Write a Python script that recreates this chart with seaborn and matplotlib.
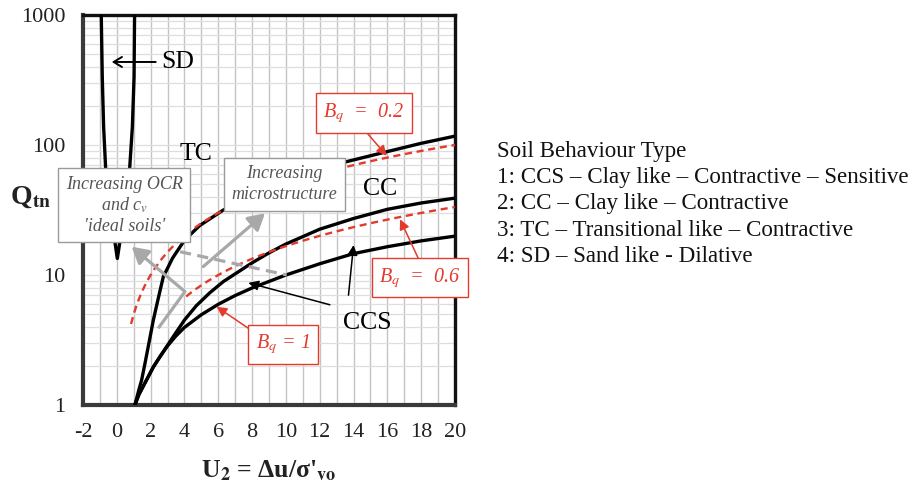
import numpy as np
import pandas as pd
import matplotlib
matplotlib.use("Agg")
import matplotlib.pyplot as plt
import seaborn as sns
from matplotlib.ticker import FixedLocator, FixedFormatter, NullFormatter

# ---- boundary curves in the Qtn - U2 chart -------------------------------
# TC / CC boundary
tc_cc_u2 = [1.07, 1.3, 1.47, 1.67, 1.9, 2.16, 2.45, 2.75, 3.3, 4.0, 4.9, 6.3, 8.0, 10.0, 12.0, 13.6, 16.0, 18.0, 20.0]
tc_cc_q = [1.0, 1.3, 1.56, 2.1, 3.0, 4.5, 6.6, 9.7, 13.5, 18.5, 24.0, 31.6, 41.0, 52.0, 63.0, 74.5, 89.0, 103.0, 117.0]

# CC / CCS boundary
cc_ccs_u2 = [1.07, 1.3, 1.76, 2.15, 2.55, 3.0, 3.4, 4.0, 4.7, 5.5, 6.3, 7.0, 8.0, 9.0, 10.0, 12.0, 14.0, 16.0, 18.0, 20.0]
cc_ccs_q = [1.0, 1.2, 1.56, 1.95, 2.35, 2.88, 3.45, 4.5, 5.8, 7.3, 8.9, 10.2, 12.4, 14.8, 17.3, 22.5, 27.2, 32.0, 35.8, 39.0]

# lower CCS curve
ccs_u2 = [1.07, 1.3, 1.76, 2.15, 2.55, 3.0, 3.5, 4.0, 5.0, 6.0, 7.0, 8.0, 10.0, 12.0, 14.0, 16.0, 18.0, 20.0]
ccs_q = [1.0, 1.2, 1.56, 1.95, 2.35, 2.85, 3.4, 3.95, 4.95, 5.95, 6.95, 7.95, 10.0, 12.2, 14.6, 16.5, 18.3, 19.9]

# SD zone outline (down the left side, up the right side)
sd_u2 = [-0.92, -0.86, -0.78, -0.66, -0.45, -0.13, 0.03, 0.2, 0.5, 0.76, 0.92, 1.02, 1.05]
sd_q = [1000, 334, 138, 66, 35, 18.6, 13.4, 18.6, 35, 66, 138, 334, 1000]

# constant Bq lines: Qtn = U2 / Bq
bq_values = [0.2, 0.6]
bq_u2_start = [0.84, 4.1]
bq_u2_end = [20.0, 20.0]

# axis ticks
x_ticks = [-2, 0, 2, 4, 6, 8, 10, 12, 14, 16, 18, 20]
y_ticks = [1, 10, 100, 1000]
y_tick_labels = ["1", "10", "100", "1000"]

legend_title = "Soil Behaviour Type"
legend_lines = [
    "1: CCS \u2013 Clay like \u2013 Contractive \u2013 Sensitive",
    "2: CC \u2013 Clay like \u2013 Contractive",
    "3: TC \u2013 Transitional like \u2013 Contractive",
    "4: SD \u2013 Sand like - Dilative",
]

sns.set_theme(style="white")
plt.rcParams["font.family"] = ["Liberation Serif", "DejaVu Serif"]
plt.rcParams["mathtext.fontset"] = "stix"
plt.rcParams["axes.unicode_minus"] = False

RED = "#e4392d"
GREY = "#a8a8a8"
GREY_TXT = "#555555"
INK = "#222222"

fig = plt.figure(figsize=(9.17, 4.83), dpi=100)
ax = fig.add_axes([0.0905, 0.1615, 0.4057, 0.8075])
ax.set_yscale("log")
ax.set_xlim(-2, 20)
ax.set_ylim(1, 1000)

# grid
ax.xaxis.set_major_locator(FixedLocator(x_ticks))
ax.xaxis.set_minor_locator(FixedLocator(list(range(-2, 21))))
ax.yaxis.set_major_locator(FixedLocator(y_ticks))
ax.yaxis.set_major_formatter(FixedFormatter(y_tick_labels))
minor_y = [m * d for d in (1, 10, 100) for m in range(2, 10)]
ax.yaxis.set_minor_locator(FixedLocator(minor_y))
ax.yaxis.set_minor_formatter(NullFormatter())
ax.grid(True, axis="x", which="both", color="#c4c4c4", lw=1.0, zorder=0)
ax.grid(True, axis="y", which="both", color="#dedede", lw=0.9, zorder=0)
ax.set_axisbelow(True)

ax.tick_params(axis="both", which="major", direction="out", length=4, width=1,
               color="#888888", labelsize=16, labelcolor=INK)
ax.tick_params(axis="x", which="major", pad=9)
ax.tick_params(axis="y", which="major", pad=8.5)
ax.tick_params(axis="both", which="minor", length=0)

for side in ("left", "bottom"):
    ax.spines[side].set_color("#3a3a3a")
    ax.spines[side].set_linewidth(3.0)
for side in ("top", "right"):
    ax.spines[side].set_color("#111111")
    ax.spines[side].set_linewidth(2.4)

# boundary curves
curves = pd.concat([
    pd.DataFrame({"U2": tc_cc_u2, "Q": tc_cc_q, "curve": "TC/CC"}),
    pd.DataFrame({"U2": cc_ccs_u2, "Q": cc_ccs_q, "curve": "CC/CCS"}),
    pd.DataFrame({"U2": ccs_u2, "Q": ccs_q, "curve": "CCS"}),
    pd.DataFrame({"U2": sd_u2, "Q": sd_q, "curve": "SD"}),
])
for name, grp in curves.groupby("curve", sort=False):
    sns.lineplot(data=grp, x="U2", y="Q", sort=False, estimator=None,
                 color="black", lw=2.4, ax=ax, zorder=3)

# Bq lines
for bq, u0, u1 in zip(bq_values, bq_u2_start, bq_u2_end):
    u = np.linspace(u0, u1, 120)
    sns.lineplot(x=u, y=u / bq, sort=False, estimator=None, color=RED,
                 lw=1.7, ax=ax, zorder=4).lines[-1].set_dashes((3, 2))

# grey trend lines
ax.plot([3.74, 10.05], [15.1, 10.0], color=GREY, lw=2.3, dashes=(3.5, 2), zorder=4)
ax.plot([2.45, 4.03], [3.89, 7.45], color=GREY, lw=2.3, zorder=4, solid_capstyle="butt")
grey_arrow = dict(arrowstyle="-|>,head_length=0.7,head_width=0.4", color=GREY, lw=2.3,
                  shrinkA=0, shrinkB=0, mutation_scale=14)
ax.annotate("", xy=(0.88, 16.5), xytext=(4.03, 7.45), arrowprops=grey_arrow, zorder=4)
ax.annotate("", xy=(8.76, 29.8), xytext=(5.11, 11.6), arrowprops=grey_arrow, zorder=4)

# grey explanation boxes
grey_box = dict(boxstyle="square,pad=0.42", fc="white", ec="#9a9a9a", lw=1.0)
ax.text(0.45, 34.3, "Increasing OCR\nand c$_v$\n'ideal soils'", ha="center", va="center",
        fontsize=13, style="italic", color=GREY_TXT, linespacing=1.2,
        bbox=grey_box, zorder=6, clip_on=False)
ax.text(9.9, 50, "Increasing\nmicrostructure", ha="center", va="center",
        fontsize=13, style="italic", color=GREY_TXT, linespacing=1.3,
        bbox=grey_box, zorder=6, clip_on=False)

# zone labels
ax.text(2.6, 435, "SD", ha="left", va="center", fontsize=18.5, color="black", zorder=6)
ax.text(4.7, 85, "TC", ha="center", va="center", fontsize=18.5, color="black", zorder=6)
ax.text(15.6, 46, "CC", ha="center", va="center", fontsize=18.5, color="black", zorder=6)
ax.text(14.8, 4.3, "CCS", ha="center", va="center", fontsize=18.5, color="black", zorder=6)

black_arrow = dict(arrowstyle="-|>,head_length=0.5,head_width=0.25", color="black", lw=1.1,
                   shrinkA=0, shrinkB=0, mutation_scale=12)
ax.annotate("", xy=(-0.3, 435), xytext=(2.3, 435),
            arrowprops=dict(arrowstyle="->,head_length=0.5,head_width=0.3", color="black",
                            lw=1.4, shrinkA=0, shrinkB=0, mutation_scale=12), zorder=6)
ax.annotate("", xy=(7.78, 8.7), xytext=(12.6, 5.9), arrowprops=black_arrow, zorder=6)
ax.annotate("", xy=(14.0, 17.0), xytext=(13.7, 7.0), arrowprops=black_arrow, zorder=6)

# Bq labels
red_box = dict(boxstyle="square,pad=0.38", fc="white", ec=RED, lw=1.0)
red_arrow = dict(arrowstyle="-|>,head_length=0.5,head_width=0.25", color=RED, lw=1.1,
                 shrinkA=0, shrinkB=0, mutation_scale=12)
bq_label_text = ["B$_q$  =  0.2", "B$_q$  =  0.6", "B$_q$ = 1"]
bq_label_pos = [(14.6, 176), (17.93, 9.55), (9.83, 2.92)]
bq_arrow_tail = [(14.7, 128), (17.83, 13.4), (7.78, 3.89)]
bq_arrow_tip = [(15.96, 82.6), (16.75, 26.8), (5.9, 5.7)]
for txt, pos, tail, tip in zip(bq_label_text, bq_label_pos, bq_arrow_tail, bq_arrow_tip):
    ax.annotate("", xy=tip, xytext=tail, arrowprops=red_arrow, zorder=5)
    ax.text(*pos, txt, ha="center", va="center", fontsize=14.5, style="italic", color=RED,
            bbox=red_box, zorder=7, clip_on=False)

# axis titles
ax.set_xlabel(r"U$_\mathbf{2}$ = Δu/σ'$_\mathbf{vo}$", fontsize=18.5, fontweight="bold",
              color=INK, labelpad=12)
ax.set_ylabel("")
ax.text(-0.142, 0.533, r"Q$_\mathbf{tn}$", transform=ax.transAxes, ha="center",
        va="center", fontsize=20, fontweight="bold", color=INK)

# soil behaviour type key
key_size = 16.6
fig.text(497 / 917, 1 - 151.7 / 483, legend_title, ha="left", va="center", fontsize=key_size, color="#111111")
for i, line in enumerate(legend_lines):
    fig.text(497 / 917, 1 - (178 + 26 * i) / 483, line, ha="left", va="center",
             fontsize=key_size, color="#111111")

fig.savefig("out.png", dpi=100)
